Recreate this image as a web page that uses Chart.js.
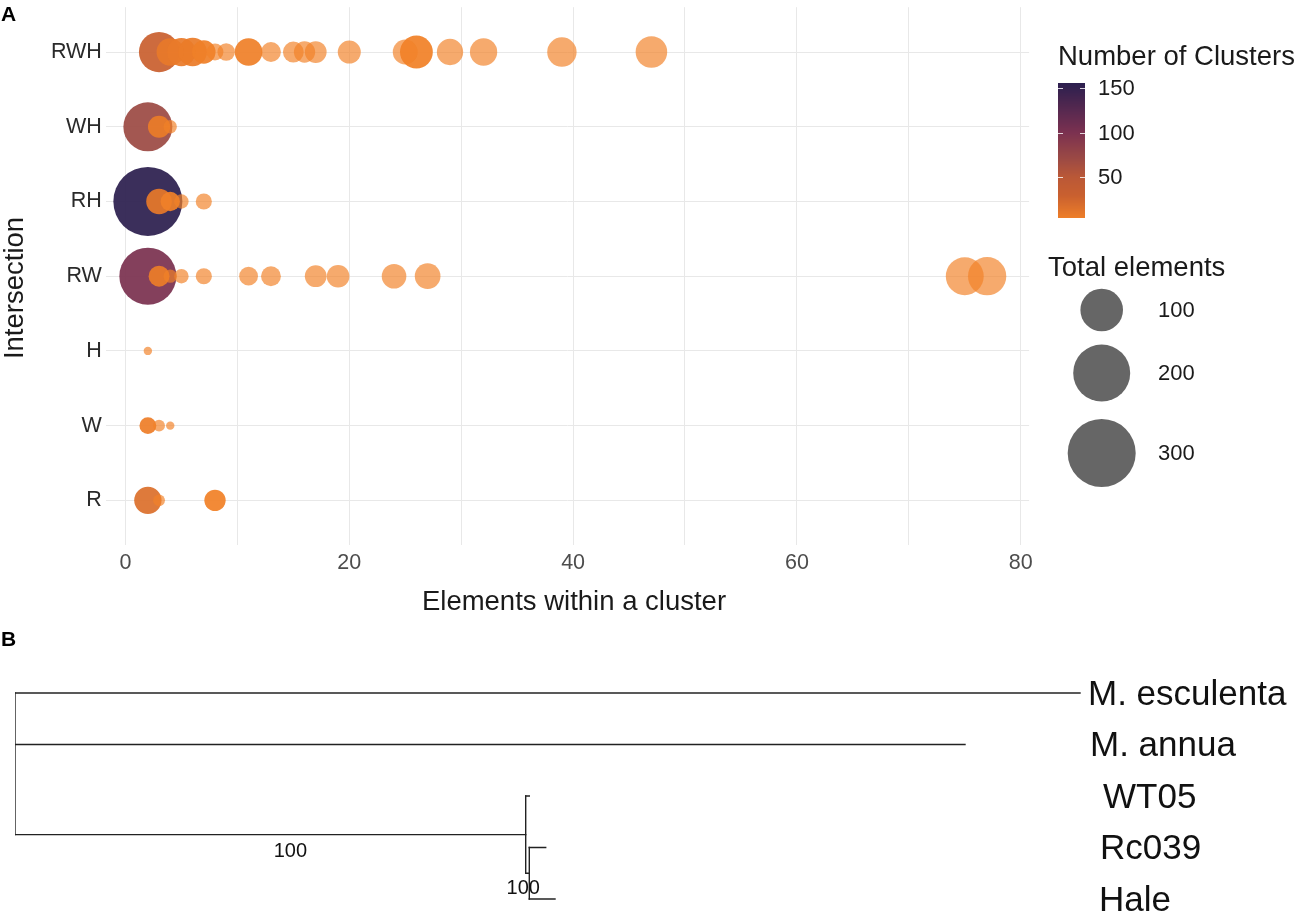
<!DOCTYPE html>
<html><head><meta charset="utf-8">
<script src="https://cdn.jsdelivr.net/npm/chart.js@4.4.1/dist/chart.umd.min.js"></script>
<style>
html,body{margin:0;padding:0;background:#fff;width:1299px;height:917px;overflow:hidden;}
#ca{position:absolute;left:0;top:0;}
#cb{position:absolute;left:0;top:620px;}
</style></head><body>
<canvas id="ca" width="1299" height="620"></canvas>
<canvas id="cb" width="1299" height="297"></canvas>
<script>
// ---------- Panel A data ----------
const categories = ['R','W','H','RW','RH','WH','RWH'];
const xTickValues = [0,10,20,30,40,50,60,70,80];
const xTickLabels = ['0','','20','','40','','60','','80'];
const colorbarBreaks = [50,100,150];
const sizeBreaks = [100,200,300];

// elements within a cluster / number of clusters / total elements
const rwhElements = [3,4,5,6,7,8,9,11,13,15,16,17,20,25,26,29,32,39,47];
const rwhClusters = [29,8,7,6,3,1,1,3,1,1,1,1,1,1,2,1,1,1,1];
const rwhTotals   = [87,32,35,36,21,8,9,33,13,15,16,17,20,25,52,29,32,39,47];

const whElements = [2,3,4];
const whClusters = [70,6,1];
const whTotals   = [140,18,4];

const rhElements = [2,3,4,5,7];
const rhClusters = [155,9,3,1,1];
const rhTotals   = [310,27,12,5,7];

const rwElements = [2,3,4,5,7,11,13,17,19,24,27,75,77];
const rwClusters = [100,5,1,1,1,1,1,1,1,1,1,1,1];
const rwTotals   = [200,15,4,5,7,11,13,17,19,24,27,75,77];

const hElements = [2];
const hClusters = [1];
const hTotals   = [2];

const wElements = [2,3,4];
const wClusters = [4,1,1];
const wTotals   = [8,3,2];

const rElements = [2,3,8];
const rClusters = [16,1,2];
const rTotals   = [32,3,16];

// ---------- Panel B data (tree) ----------
const taxa = ['M. esculenta','M. annua','WT05','Rc039','Hale'];
const treeEdges = [
  ['root','M. esculenta',1.065],
  ['root','M. annua',0.950],
  ['root','clade',0.5107],
  ['clade','WT05',0.0036],
  ['clade','inner',0.0036],
  ['inner','Rc039',0.0164],
  ['inner','Hale',0.0257]
];
const bootstrapNodes = ['clade','inner'];
const bootstrapValues = [100,100];

// ---------- helpers ----------
const FONT = '"Liberation Sans", Arial, Helvetica, sans-serif';
function sizeScale(t){ return 4.2 + 1.727*Math.sqrt(Math.max(0,t-2)); }
const colorStops = [[1,[242,130,40]],[29,[201,96,47]],[50,[186,88,55]],[70,[156,74,68]],[100,[123,49,80]],[155,[44,31,79]]];
function clusterRGB(n){
  if(n<=colorStops[0][0]) return colorStops[0][1];
  for(let i=1;i<colorStops.length;i++){
    if(n<=colorStops[i][0]){
      const [a,ca]=colorStops[i-1],[b,cb]=colorStops[i];
      const t=(n-a)/(b-a);
      return ca.map((v,k)=>Math.round(v+(cb[k]-v)*t));
    }
  }
  return colorStops[colorStops.length-1][1];
}
function clusterColor(n){
  const c=clusterRGB(n); const a = n===1 ? 0.68 : 0.93;
  return `rgba(${c[0]},${c[1]},${c[2]},${a})`;
}

const rows = [
  ['RWH',rwhElements,rwhClusters,rwhTotals],
  ['WH',whElements,whClusters,whTotals],
  ['RH',rhElements,rhClusters,rhTotals],
  ['RW',rwElements,rwClusters,rwTotals],
  ['H',hElements,hClusters,hTotals],
  ['W',wElements,wClusters,wTotals],
  ['R',rElements,rClusters,rTotals]
];
const points=[], pColors=[], pRadii=[];
rows.forEach(([cat,xs,cs,ts])=>{
  const yi = categories.indexOf(cat)+1;
  xs.forEach((x,i)=>{
    points.push({x:x,y:yi});
    pColors.push(clusterColor(cs[i]));
    pRadii.push(sizeScale(ts[i]));
  });
});

const annotA = {
  id:'annotA',
  afterDraw(chart){
    const ctx=chart.ctx; ctx.save();
    ctx.fillStyle='#000';
    ctx.font=`bold 21px ${FONT}`; ctx.textBaseline='middle'; ctx.textAlign='left';
    ctx.fillText('A',1,15);
    // axis titles
    ctx.font=`27.5px ${FONT}`; ctx.fillStyle='#1a1a1a';
    ctx.textAlign='center';
    ctx.fillText('Elements within a cluster',574,602);
    ctx.save(); ctx.translate(15,288); ctx.rotate(-Math.PI/2);
    ctx.fillText('Intersection',0,0); ctx.restore();
    // colour legend
    ctx.textAlign='left';
    ctx.fillText('Number of Clusters',1058,57);
    const cbX=1058, cbW=27, cbTop=83, cbBot=218;
    const yFor = v => 88 + (150-v)*0.89;
    for(let y=cbTop;y<cbBot;y++){
      const v = 150 - (y+0.5-88)/0.89;
      const c = clusterRGB(v);
      ctx.fillStyle=`rgb(${c[0]},${c[1]},${c[2]})`;
      ctx.fillRect(cbX,y,cbW,1);
    }
    ctx.strokeStyle='rgba(255,255,255,0.8)'; ctx.lineWidth=1;
    ctx.font=`22px ${FONT}`; ctx.fillStyle='#1a1a1a';
    colorbarBreaks.forEach(b=>{
      const y=Math.round(yFor(b))+0.5;
      ctx.beginPath(); ctx.moveTo(cbX,y); ctx.lineTo(cbX+5,y);
      ctx.moveTo(cbX+cbW-5,y); ctx.lineTo(cbX+cbW,y); ctx.stroke();
      ctx.fillText(String(b),1098,yFor(b)+1);
    });
    // size legend
    ctx.font=`27.5px ${FONT}`;
    ctx.fillText('Total elements',1048,268);
    const sy=[310,373,453];
    ctx.font=`22px ${FONT}`;
    sizeBreaks.forEach((b,i)=>{
      ctx.fillStyle='#666666';
      ctx.beginPath(); ctx.arc(1101.7,sy[i],sizeScale(b),0,Math.PI*2); ctx.fill();
      ctx.fillStyle='#1a1a1a';
      ctx.fillText(String(b),1158,sy[i]+1);
    });
    ctx.restore();
  }
};

new Chart(document.getElementById('ca'),{
  type:'scatter',
  data:{datasets:[{
    data:points,
    backgroundColor:pColors, borderWidth:0,
    pointRadius:pRadii, pointHoverRadius:pRadii, hoverBorderWidth:0,
    pointBackgroundColor:pColors
  }]},
  options:{
    responsive:false, animation:false, devicePixelRatio:1,
    events:[],
    layout:{autoPadding:false,padding:{left:0,right:269.9,top:7.2,bottom:0}},
    plugins:{legend:{display:false},tooltip:{enabled:false}},
    scales:{
      x:{type:'linear',min:-1.75,max:80.75,
        afterBuildTicks:s=>{s.ticks=xTickValues.map(v=>({value:v}));},
        afterFit:s=>{s.height=74.8; s.paddingLeft=0; s.paddingRight=0;},
        ticks:{callback:(v,i)=>xTickLabels[xTickValues.indexOf(v)] ?? '',autoSkip:false,maxRotation:0,
          padding:5,color:'#4d4d4d',font:{family:FONT,size:21.5}},
        grid:{color:'#e8e8e8',lineWidth:1,drawTicks:false},
        border:{display:false}
      },
      y:{type:'linear',min:0.4,max:7.6,
        afterBuildTicks:s=>{s.ticks=categories.map((c,i)=>({value:i+1}));},
        afterFit:s=>{s.width=105.9; s.paddingTop=0; s.paddingBottom=0;},
        ticks:{callback:v=>categories[v-1],autoSkip:false,padding:4,color:'#2a2a2a',font:{family:FONT,size:21.5}},
        grid:{color:'#e8e8e8',lineWidth:1,drawTicks:false},
        border:{display:false}
      }
    }
  },
  plugins:[annotA]
});

// ---------- Panel B ----------
const nodeX={root:0}, children={};
treeEdges.forEach(([p,c,l])=>{ (children[p]=children[p]||[]).push(c); });
treeEdges.forEach(([p,c,l])=>{ nodeX[c]=nodeX[p]+l; });
const nodeY={};
function yOf(n){
  if(nodeY[n]!==undefined) return nodeY[n];
  if(!children[n]){ nodeY[n]=taxa.indexOf(n); return nodeY[n]; }
  const ys=children[n].map(yOf);
  nodeY[n]=(ys[0]+ys[ys.length-1])/2; return nodeY[n];
}
yOf('root');
const segs=[];
treeEdges.forEach(([p,c])=>{ segs.push([{x:nodeX[p],y:nodeY[c]},{x:nodeX[c],y:nodeY[c]}]); });
Object.keys(children).forEach(n=>{
  const ys=children[n].map(c=>nodeY[c]);
  segs.push([{x:nodeX[n],y:Math.min(...ys)},{x:nodeX[n],y:Math.max(...ys)}]);
});
const labelNudge={'M. esculenta':-2,'M. annua':0,'WT05':13,'Rc039':10,'Hale':9};
const annotB={
  id:'annotB',
  afterDraw(chart){
    const ctx=chart.ctx, xs=chart.scales.x, ys=chart.scales.y;
    ctx.save();
    ctx.fillStyle='#000'; ctx.font=`bold 21px ${FONT}`; ctx.textBaseline='middle'; ctx.textAlign='left';
    ctx.fillText('B',1,20);
    ctx.font=`35px ${FONT}`; ctx.fillStyle='#111';
    const maxX=Math.max(...taxa.map(t=>nodeX[t]));
    taxa.forEach(t=>{
      ctx.fillText(t, xs.getPixelForValue(maxX)+10+labelNudge[t], ys.getPixelForValue(nodeY[t])+2);
    });
    ctx.font=`20px ${FONT}`; ctx.textAlign='center';
    const cx=(xs.getPixelForValue(nodeX.root)+xs.getPixelForValue(nodeX.clade))/2+20;
    ctx.fillText(String(bootstrapValues[0]),cx,ys.getPixelForValue(nodeY.clade)+17);
    ctx.fillText(String(bootstrapValues[1]),xs.getPixelForValue(nodeX.inner)-6,ys.getPixelForValue(nodeY.inner)+15);
    ctx.restore();
  }
};
new Chart(document.getElementById('cb'),{
  type:'scatter',
  data:{datasets:segs.map(s=>({data:s,showLine:true,pointRadius:0,borderColor:'#222',borderWidth:1.4,fill:false,tension:0,borderCapStyle:'square'}))},
  options:{
    responsive:false, animation:false, devicePixelRatio:1, events:[],
    layout:{autoPadding:false,padding:{left:15,right:0,top:47.25,bottom:2.55}},
    plugins:{legend:{display:false},tooltip:{enabled:false}},
    scales:{
      x:{type:'linear',min:0,max:1.284,display:false},
      y:{type:'linear',min:-0.5,max:4.3,reverse:true,display:false}
    }
  },
  plugins:[annotB]
});
</script>
</body></html>
